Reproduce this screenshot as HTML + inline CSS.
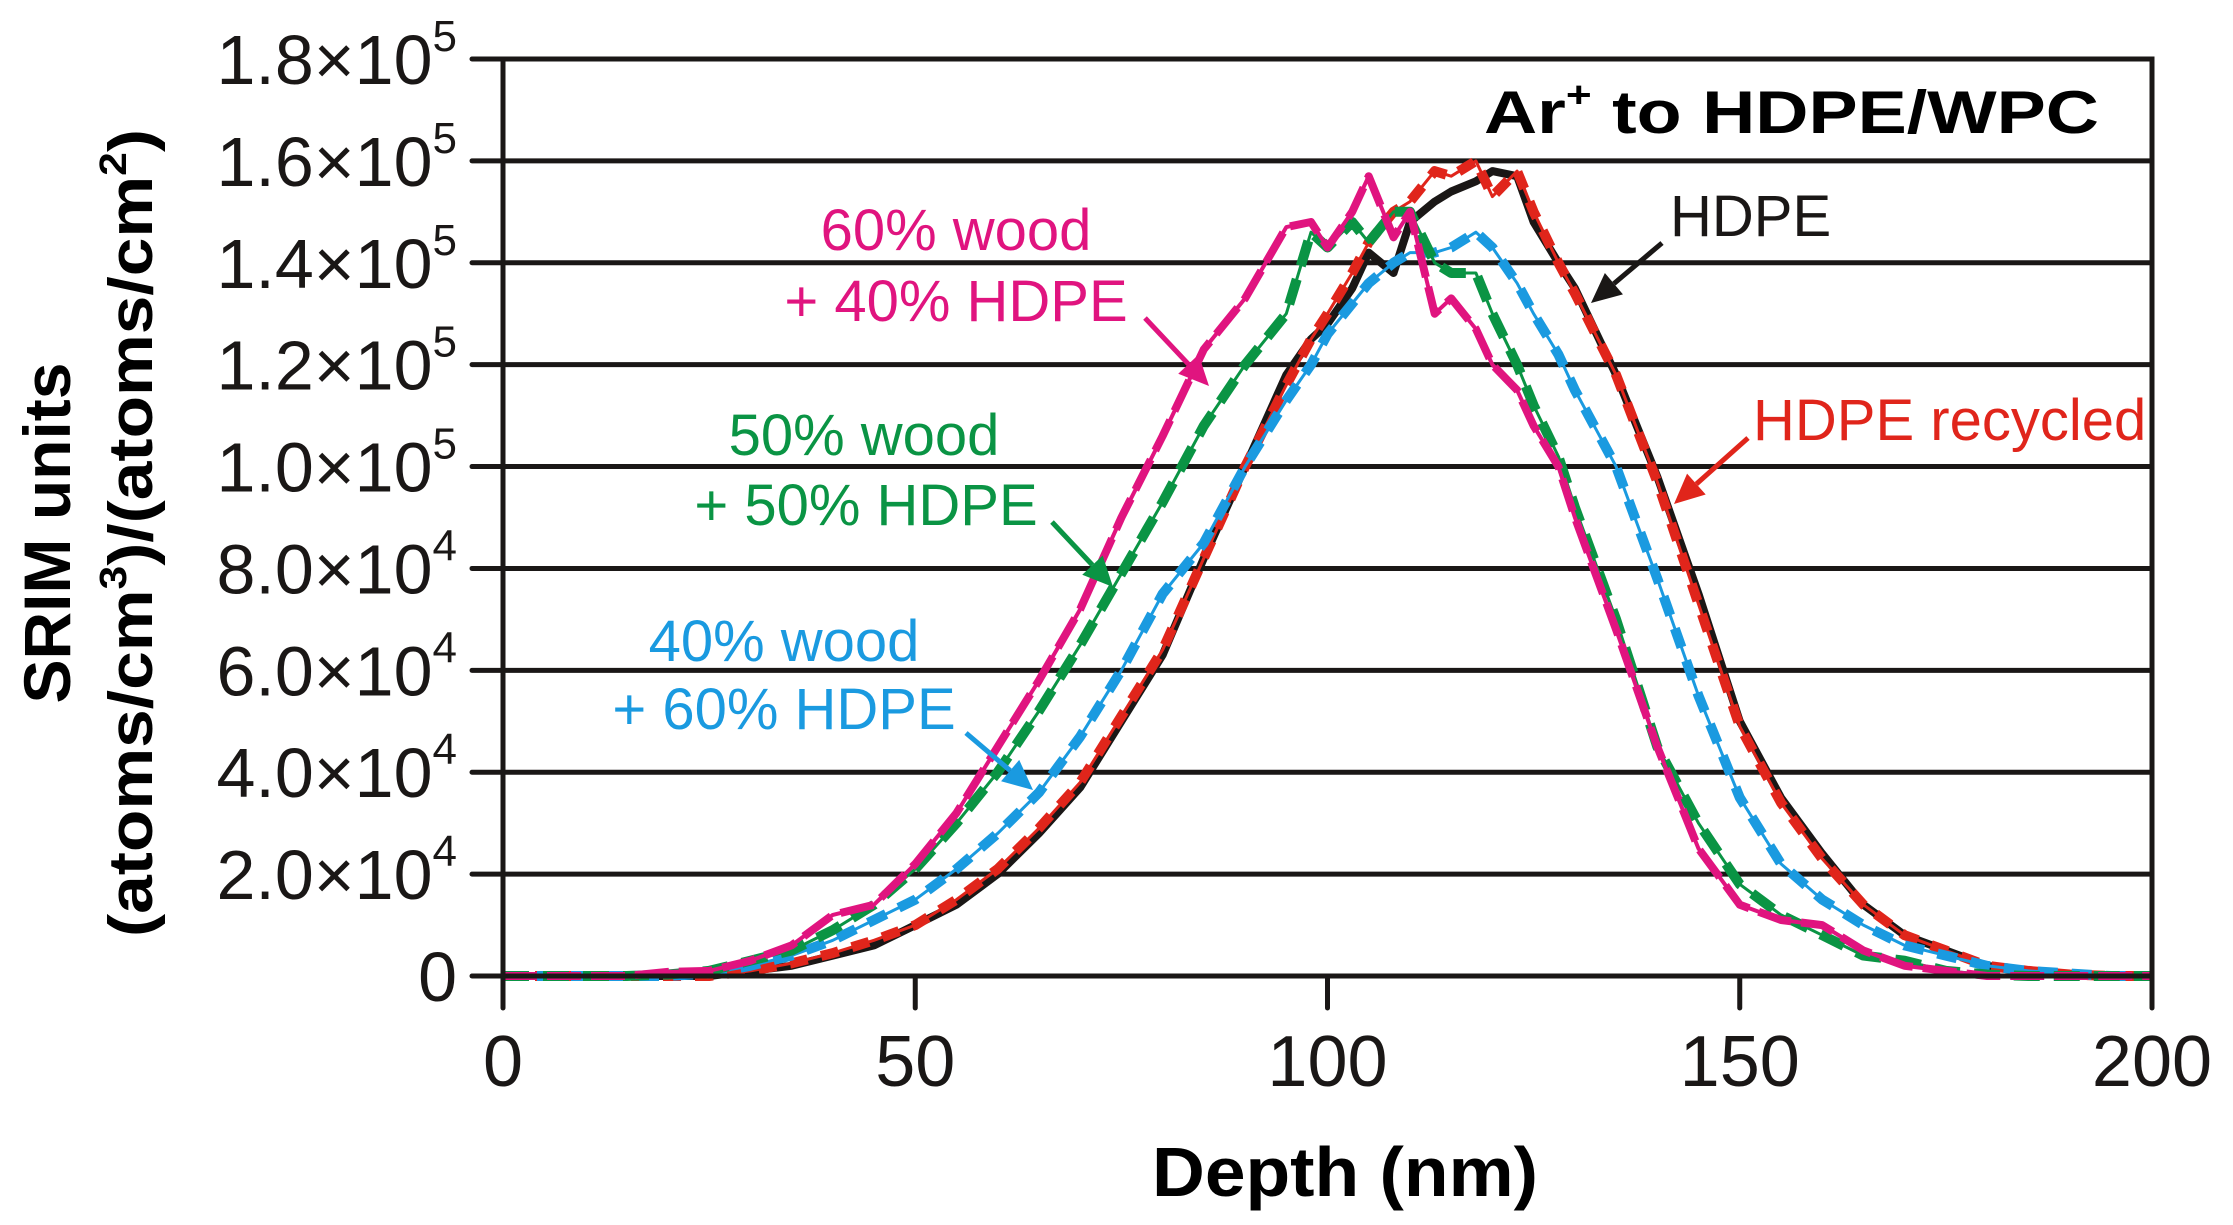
<!DOCTYPE html>
<html><head><meta charset="utf-8"><style>
html,body{margin:0;padding:0;background:#fff;}
svg{display:block;font-family:"Liberation Sans",Arial,sans-serif;}
</style></head><body>
<svg id="chart" width="2233" height="1225" viewBox="0 0 2233 1225" xmlns="http://www.w3.org/2000/svg">
<g id="grid"></g>
<g id="series"></g>
<g id="axes"></g>
<text x="1484" y="133" font-size="60" font-weight="bold" textLength="615" lengthAdjust="spacingAndGlyphs">Ar<tspan font-size="36" dy="-26">+</tspan><tspan dy="26"> to HDPE/WPC</tspan></text>
<text transform="translate(70,533) rotate(-90)" text-anchor="middle" font-size="66" font-weight="bold">SRIM units</text>
<text transform="translate(152,533) rotate(-90)" text-anchor="middle" font-size="62" font-weight="bold" textLength="808" lengthAdjust="spacingAndGlyphs">(atoms/cm<tspan font-size="38" dy="-26">3</tspan><tspan dy="26">)/(atoms/cm</tspan><tspan font-size="38" dy="-26">2</tspan><tspan dy="26">)</tspan></text>
<text x="1345" y="1196" text-anchor="middle" font-size="70" font-weight="bold" textLength="386" lengthAdjust="spacingAndGlyphs">Depth (nm)</text>
<g id="annot"></g>
</svg>
<script>
const depth = [0,5,10,15,20,25,30,35,40,45,50,55,60,65,70,75,80,85,90,95,98,100,103,105,108,110,113,115,118,120,123,125,128,130,135,140,145,150,155,160,165,170,175,180,185,190,195,200];
const wood60 = [0,0,0,0,0.8,1,3,6,12,14,22,32,45,58,72,90,106,123,133,147,148,143,150,157,145,150,130,133,127,120,115,108,100,90,68,45,25,14,11,10,5,2,1,0,0,0,0,0];
const wood50 = [0,0,0,0,0.3,1,3,5,9,14,21,30,40,52,65,79,93,108,120,130,146,143,148,144,150,150,140,138,138,130,120,112,102,92,70,45,30,18,12,8,4,3,1,0.3,0,0,0,0];
const wood40 = [0,0,0,0,0,0.5,2,4,7,11,15,21,28,36,47,60,75,85,100,113,120,126,132,136,140,142,142,143,146,143,136,130,122,115,100,78,55,35,22,15,10,6,4,2,1,0.5,0,0];
const hdpe = [0,0,0,0,0,0,1,2,4,6,10,14,20,28,37,50,63,82,100,118,125,128,135,142,138,148,152,154,156,158,157,148,140,135,118,98,75,50,35,24,14,8,5,2,1,0.3,0,0];
const hdpeRecycled = [0,0,0,0,0,0,1,2.5,4.5,7,10,15,21,29,38,51,64,82,100,116,125,130,138,144,150,152,158,157,160,153,158,150,140,134,118,97,73,49,34,23,14,8,5,2,1,0.3,0,0];
const yTicks = [0,20,40,60,80,100,120,140,160,180];
const yTickLabels = ["0","2.0×10|4","4.0×10|4","6.0×10|4","8.0×10|4","1.0×10|5","1.2×10|5","1.4×10|5","1.6×10|5","1.8×10|5"];
const xTicks = [0,50,100,150,200];

const NS="http://www.w3.org/2000/svg";
const X0=503,X1=2152,Y0=976,Y1=59;
const xs=d=>X0+(d-0)/(200-0)*(X1-X0);
const ys=v=>Y0-(v-0)/(180-0)*(Y0-Y1);
function mk(tag,attrs,parent){const e=document.createElementNS(NS,tag);for(const k in attrs)e.setAttribute(k,attrs[k]);parent.appendChild(e);return e;}
const grid=document.getElementById('grid'),axes=document.getElementById('axes'),ser=document.getElementById('series'),ann=document.getElementById('annot');

yTicks.forEach((t,i)=>{
  if(t>0){const l=mk('line',{x1:X0,x2:X1,y1:ys(t),y2:ys(t),stroke:'#1a1716','stroke-width':5},grid);
  
  }
  const tk=mk('line',{x1:472,x2:X0,y1:ys(t),y2:ys(t),stroke:'#1a1716','stroke-width':5,'stroke-linecap':'round'},axes);
  
  
  const parts=yTickLabels[i].split('|');
  const tx=mk('text',{x:457,y:ys(t)+25,'text-anchor':'end','font-size':70,fill:'#1a1716'},axes);
  
  
  if(parts.length>1){tx.textContent=parts[0];const s=mk('tspan',{'font-size':44,dy:-33},tx);s.textContent=parts[1];}
  else tx.textContent=parts[0];
});
xTicks.forEach(t=>{
  const tk=mk('line',{x1:xs(t),x2:xs(t),y1:Y0,y2:1008,stroke:'#1a1716','stroke-width':5,'stroke-linecap':'round'},axes);
  
  
  const tx=mk('text',{x:xs(t),y:1086,'text-anchor':'middle','font-size':72,fill:'#1a1716'},axes);
  
  
  tx.textContent=String(t);
});
const frame=mk('path',{d:`M${X0},${Y1}L${X1},${Y1}L${X1},${Y0}L${X0},${Y0}Z`,fill:'none',stroke:'#1a1716','stroke-width':5},axes);



function pts(vals){return vals.map((v,i)=>xs(depth[i]).toFixed(1)+','+ys(v).toFixed(1)).join(' ');}
function drawSeries(name,vals,color,thin,thick,dash){
  const g=mk('g',{},ser);
  
  
  const a=mk('polyline',{points:pts(vals),fill:'none',stroke:color,'stroke-width':thin,'stroke-linejoin':'round'},g);
  
  
  if(thick){const b=mk('polyline',{points:pts(vals),fill:'none',stroke:color,'stroke-width':thick,'stroke-dasharray':dash,'stroke-linejoin':'round'},g);
  
  }
}
drawSeries('series-hdpe',hdpe,'#1a1716',8,0,'');
drawSeries('series-hdpe-recycled',hdpeRecycled,'#e0251b',3,10,'18 14');
drawSeries('series-40-wood',wood40,'#1a9ae0',3,10,'20 14');
drawSeries('series-50-wood',wood50,'#0a9444',3,10,'26 14');
drawSeries('series-60-wood',wood60,'#e0147f',4,8,'34 10');

function label(name,x,y,txt,color,anchor){const t=mk('text',{x:x,y:y,'text-anchor':anchor||'middle','font-size':58,fill:color},ann);
  
  
  t.textContent=txt;}
function arrow(name,x1,y1,x2,y2,color){
  const g=mk('g',{},ann);
  
  
  const ang=Math.atan2(y2-y1,x2-x1),L=30,W=14;
  const bx=x2-L*Math.cos(ang),by=y2-L*Math.sin(ang);
  mk('line',{x1:x1,y1:y1,x2:bx,y2:by,stroke:color,'stroke-width':5},g);
  const px=-Math.sin(ang)*W,py=Math.cos(ang)*W;
  mk('polygon',{points:`${x2},${y2} ${bx+px},${by+py} ${bx-px},${by-py}`,fill:color},g);
}
label('label-hdpe',1670,236,'HDPE','#1a1716','start');
arrow('arrow-hdpe',1662,243,1591,303,'#1a1716');
label('label-hdpe-recycled',1753,440,'HDPE recycled','#e0251b','start');
arrow('arrow-hdpe-recycled',1748,438,1674,504,'#e0251b');
label('label-60-wood-l1',956,250,'60% wood','#e0147f');
label('label-60-wood-l2',956,321,'+ 40% HDPE','#e0147f');
arrow('arrow-60-wood',1145,318,1209,386,'#e0147f');
label('label-50-wood-l1',864,455,'50% wood','#0a9444');
label('label-50-wood-l2',866,525,'+ 50% HDPE','#0a9444');
arrow('arrow-50-wood',1052,522,1113,587,'#0a9444');
label('label-40-wood-l1',784,661,'40% wood','#1a9ae0');
label('label-40-wood-l2',784,729,'+ 60% HDPE','#1a9ae0');
arrow('arrow-40-wood',966,733,1033,790,'#1a9ae0');
</script>
</body></html>
